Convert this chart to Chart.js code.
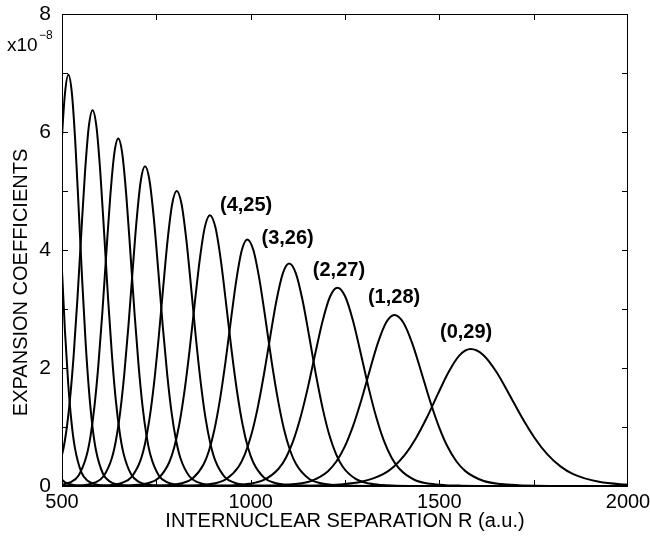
<!DOCTYPE html>
<html>
<head>
<meta charset="utf-8">
<script src="https://cdn.jsdelivr.net/npm/chart.js@4.4.1/dist/chart.umd.min.js"></script>
<style>
    html, body { margin: 0; padding: 0; background: #ffffff; }
    #wrap { width: 650px; height: 543px; }
</style>
</head>
<body>
<div id="wrap"><canvas id="coeffChart" width="650" height="543"></canvas></div>
<script>
// expansion coefficients (units of 1e-8), R in a.u.
const edgeAR = [410, 417.75, 425.5, 433.25, 441, 448.75, 456.5, 464.25, 472, 487.5, 503, 518.5, 534, 565, 2000];
const edgeAY = [8.1, 7.744, 6.764, 5.435, 4.05, 2.827, 1.855, 1.158, 0.703, 0.246, 0.089, 0.035, 0.014, 0.002, 0];

const edgeBR = [431, 439.25, 447.5, 455.75, 464, 472.75, 481.5, 490.25, 499, 507.75, 516.5, 525.25, 534, 551.5, 569, 586.5, 604, 639, 2000];
const edgeBY = [3.775, 5.066, 6.304, 7.218, 7.55, 7.218, 6.304, 5.066, 3.775, 2.635, 1.729, 1.08, 0.655, 0.23, 0.083, 0.032, 0.013, 0.002, 0];

const peak1R = [427, 445, 454, 463, 472, 481, 490, 499, 508, 517, 526.1, 535.3, 544.4, 553.5, 562.6, 571.8, 580.9, 590, 608.3, 626.5, 644.8, 663, 699.5, 2000];
const peak1Y = [0.212, 0.605, 0.997, 1.596, 2.433, 3.485, 4.677, 5.82, 6.663, 6.97, 6.663, 5.82, 4.677, 3.485, 2.433, 1.596, 0.997, 0.605, 0.212, 0.077, 0.03, 0.012, 0.002, 0];

const peak2R = [381, 421, 441, 461, 481, 501, 511, 521, 531, 541, 551, 561, 571, 581, 591.3, 601.5, 611.8, 622, 632.3, 642.5, 652.8, 663, 683.5, 704, 724.5, 745, 786, 2000];
const peak2Y = [0.002, 0.011, 0.027, 0.07, 0.194, 0.553, 0.911, 1.459, 2.223, 3.185, 4.274, 5.319, 6.09, 6.37, 6.09, 5.319, 4.274, 3.185, 2.223, 1.459, 0.911, 0.553, 0.194, 0.07, 0.027, 0.011, 0.002, 0];

const peak3R = [439, 481, 502, 523, 544, 565, 575.5, 586, 596.5, 607, 617.5, 628, 638.5, 649, 659.8, 670.5, 681.3, 692, 702.8, 713.5, 724.3, 735, 756.5, 778, 799.5, 821, 864, 2000];
const peak3Y = [0.002, 0.01, 0.025, 0.065, 0.179, 0.511, 0.842, 1.349, 2.056, 2.945, 3.952, 4.918, 5.631, 5.89, 5.631, 4.918, 3.952, 2.945, 2.056, 1.349, 0.842, 0.511, 0.179, 0.065, 0.025, 0.01, 0.002, 0];

const peak4R = [500, 544, 566, 588, 610, 632, 643, 654, 665, 676, 687, 698, 709, 720, 731.8, 743.5, 755.3, 767, 778.8, 790.5, 802.3, 814, 837.5, 861, 884.5, 908, 955, 2000];
const peak4Y = [0.002, 0.009, 0.023, 0.06, 0.165, 0.47, 0.775, 1.241, 1.892, 2.71, 3.637, 4.526, 5.182, 5.42, 5.182, 4.526, 3.637, 2.71, 1.892, 1.241, 0.775, 0.47, 0.165, 0.06, 0.023, 0.009, 0.002, 0];

const peak5R = [500, 564, 612, 636, 660, 684, 708, 720, 732, 744, 756, 768, 780, 792, 804, 816.8, 829.5, 842.3, 855, 867.8, 880.5, 893.3, 906, 931.5, 957, 982.5, 1008, 1059, 2000];
const peak5Y = [0, 0.002, 0.009, 0.022, 0.055, 0.152, 0.434, 0.715, 1.145, 1.745, 2.5, 3.355, 4.175, 4.78, 5.0, 4.78, 4.175, 3.355, 2.5, 1.745, 1.145, 0.715, 0.434, 0.152, 0.055, 0.022, 0.009, 0.002, 0];

const peak6R = [500, 622, 676, 703, 730, 757, 784, 797.5, 811, 824.5, 838, 851.5, 865, 878.5, 892, 906.4, 920.8, 935.1, 949.5, 963.9, 978.3, 992.6, 1007, 1035.8, 1064.5, 1093.3, 1122, 1179.5, 2000];
const peak6Y = [0, 0.001, 0.008, 0.02, 0.05, 0.14, 0.398, 0.656, 1.051, 1.602, 2.295, 3.08, 3.833, 4.388, 4.59, 4.388, 3.833, 3.08, 2.295, 1.602, 1.051, 0.656, 0.398, 0.14, 0.05, 0.02, 0.008, 0.001, 0];

const peak7R = [500, 701, 759, 788, 817, 846, 875, 889.5, 904, 918.5, 933, 947.5, 962, 976.5, 991, 1007.3, 1023.5, 1039.8, 1056, 1072.3, 1088.5, 1104.8, 1121, 1153.5, 1186, 1218.5, 1251, 1316, 2000];
const peak7Y = [0, 0.001, 0.007, 0.018, 0.046, 0.127, 0.363, 0.598, 0.957, 1.459, 2.09, 2.805, 3.49, 3.996, 4.18, 3.996, 3.49, 2.805, 2.09, 1.459, 0.957, 0.598, 0.363, 0.127, 0.046, 0.018, 0.007, 0.001, 0];

const peak8R = [500, 767, 834, 867.5, 901, 934.5, 968, 984.8, 1001.5, 1018.3, 1035, 1051.8, 1068.5, 1085.3, 1102, 1119.8, 1137.5, 1155.3, 1173, 1190.8, 1208.5, 1226.3, 1244, 1279.5, 1315, 1350.5, 1386, 1457, 2000];
const peak8Y = [0, 0.001, 0.006, 0.016, 0.041, 0.115, 0.327, 0.539, 0.863, 1.316, 1.885, 2.53, 3.148, 3.604, 3.77, 3.604, 3.148, 2.53, 1.885, 1.316, 0.863, 0.539, 0.327, 0.115, 0.041, 0.016, 0.006, 0.001, 0];

const peak9R = [500, 840, 918, 957, 996, 1035, 1074, 1093.5, 1113, 1132.5, 1152, 1171.5, 1191, 1210.5, 1230, 1250.5, 1271, 1291.5, 1312, 1332.5, 1353, 1373.5, 1394, 1435, 1476, 1517, 1558, 1640, 2000];
const peak9Y = [0, 0.001, 0.006, 0.014, 0.037, 0.102, 0.292, 0.48, 0.769, 1.173, 1.68, 2.255, 2.806, 3.212, 3.36, 3.212, 2.806, 2.255, 1.68, 1.173, 0.769, 0.48, 0.292, 0.102, 0.037, 0.014, 0.006, 0.001, 0];

const peak10R = [500, 941, 1029, 1073, 1117, 1161, 1205, 1227, 1249, 1271, 1293, 1315, 1337, 1359, 1381, 1404.5, 1428, 1451.5, 1475, 1498.5, 1522, 1545.5, 1569, 1616, 1663, 1710, 1757, 1851, 2000];
const peak10Y = [0, 0.001, 0.005, 0.013, 0.032, 0.088, 0.252, 0.415, 0.664, 1.012, 1.45, 1.946, 2.422, 2.772, 2.9, 2.772, 2.422, 1.946, 1.45, 1.012, 0.664, 0.415, 0.252, 0.088, 0.032, 0.013, 0.005, 0.001, 0];

const peak11R = [500, 1003, 1119, 1177, 1235, 1293, 1351, 1380, 1409, 1438, 1467, 1496, 1525, 1554, 1583, 1617, 1651, 1685, 1719, 1753, 1787, 1821, 1855, 1923, 1991, 2059];
const peak11Y = [0, 0.001, 0.004, 0.01, 0.026, 0.071, 0.201, 0.332, 0.531, 0.81, 1.16, 1.557, 1.937, 2.218, 2.32, 2.218, 1.937, 1.557, 1.16, 0.81, 0.531, 0.332, 0.201, 0.071, 0.026, 0.01];

// state labels and where they sit (data coords)
const stateLabels = ["(4,25)", "(3,26)", "(2,27)", "(1,28)", "(0,29)"];
const stateLabelR = [988, 1098, 1234, 1380, 1571];
const stateLabelY = [4.76, 4.19, 3.66, 3.19, 2.61];

const xTickLabels = [500, 1000, 1500, 2000];
const yTickLabels = [0, 2, 4, 6, 8];

const curves = [
    [edgeAR, edgeAY], [edgeBR, edgeBY],
    [peak1R, peak1Y], [peak2R, peak2Y], [peak3R, peak3Y], [peak4R, peak4Y],
    [peak5R, peak5Y], [peak6R, peak6Y], [peak7R, peak7Y], [peak8R, peak8Y],
    [peak9R, peak9Y], [peak10R, peak10Y], [peak11R, peak11Y],
];

const FONT = "'Liberation Sans', Arial, Helvetica, sans-serif";

const datasets = curves.map(function (c) {
    return {
        data: c[0].map(function (r, i) { return { x: r, y: c[1][i] }; }),
        borderColor: "#000000",
        borderWidth: 2,
        pointRadius: 0,
        fill: false,
        cubicInterpolationMode: "monotone",
        clip: { left: 0, top: 0, right: 0, bottom: 2 },
    };
});

// frame with inward ticks, y title, exponent note and state labels
const framePlugin = {
    id: "frame",
    afterDraw: function (chart) {
        const ctx = chart.ctx;
        const a = chart.chartArea;
        const xs = chart.scales.x;
        const ys = chart.scales.y;
        ctx.save();
        ctx.strokeStyle = "#000000";
        ctx.lineWidth = 1;
        ctx.strokeRect(Math.round(a.left) + 0.5, Math.round(a.top) + 0.5,
            Math.round(a.right - a.left) - 1, Math.round(a.bottom - a.top));

        ctx.beginPath();
        for (let v = 750; v < 2000; v += 250) {
            const px = Math.round(xs.getPixelForValue(v)) + 0.5;
            ctx.moveTo(px, a.bottom); ctx.lineTo(px, a.bottom - 6);
            ctx.moveTo(px, a.top); ctx.lineTo(px, a.top + 6);
        }
        for (let v = 1; v < 8; v += 1) {
            const py = Math.round(ys.getPixelForValue(v)) + 0.5;
            ctx.moveTo(a.left, py); ctx.lineTo(a.left + 6, py);
            ctx.moveTo(a.right, py); ctx.lineTo(a.right - 6, py);
        }
        ctx.stroke();

        ctx.fillStyle = "#000000";
        ctx.textBaseline = "alphabetic";
        ctx.textAlign = "left";
        ctx.font = "19px " + FONT;
        ctx.fillText("x10", 7, 51);
        ctx.font = "12px " + FONT;
        ctx.fillText("\u22128", 39, 39);

        // y title sits a little below the middle of the axis
        ctx.save();
        ctx.translate(21, ys.getPixelForValue(3.45));
        ctx.rotate(-Math.PI / 2);
        ctx.font = "20px " + FONT;
        ctx.textAlign = "center";
        ctx.textBaseline = "middle";
        ctx.fillText("EXPANSION COEFFICIENTS", 0, 0);
        ctx.restore();

        ctx.font = "bold 20px " + FONT;
        ctx.textAlign = "center";
        ctx.textBaseline = "middle";
        stateLabels.forEach(function (t, i) {
            ctx.fillText(t, xs.getPixelForValue(stateLabelR[i]), ys.getPixelForValue(stateLabelY[i]));
        });
        ctx.restore();
    },
};

new Chart(document.getElementById("coeffChart"), {
    type: "line",
    data: { datasets: datasets },
    options: {
        responsive: false,
        animation: false,
        events: [],
        layout: { padding: { top: 14, right: 22, left: 0, bottom: 0 } },
        plugins: {
            legend: { display: false },
            tooltip: { enabled: false },
        },
        scales: {
            x: {
                type: "linear",
                min: 500,
                max: 2000,
                afterBuildTicks: function (s) {
                    s.ticks = xTickLabels.map(function (v) { return { value: v }; });
                },
                afterFit: function (s) {
                    s.height = 57;
                    s.paddingLeft = 0;
                    s.paddingRight = 0;
                },
                grid: { display: false, drawTicks: false },
                border: { display: false },
                ticks: {
                    color: "#000000",
                    padding: 4,
                    maxRotation: 0,
                    autoSkip: false,
                    font: { family: FONT, size: 20 },
                    callback: function (v) { return String(v); },
                },
                title: {
                    display: true,
                    text: "INTERNUCLEAR SEPARATION R (a.u.)",
                    color: "#000000",
                    font: { family: FONT, size: 20 },
                    padding: { top: 0, bottom: 10 },
                },
            },
            y: {
                type: "linear",
                min: 0,
                max: 8,
                afterBuildTicks: function (s) {
                    s.ticks = yTickLabels.map(function (v) { return { value: v }; });
                },
                afterFit: function (s) {
                    s.width = 62;
                    s.paddingTop = 0;
                    s.paddingBottom = 0;
                },
                grid: { display: false, drawTicks: false },
                border: { display: false },
                ticks: {
                    color: "#000000",
                    padding: 11,
                    font: { family: FONT, size: 21 },
                    callback: function (v) { return String(v); },
                },
            },
        },
    },
    plugins: [framePlugin],
});
</script>
</body>
</html>
